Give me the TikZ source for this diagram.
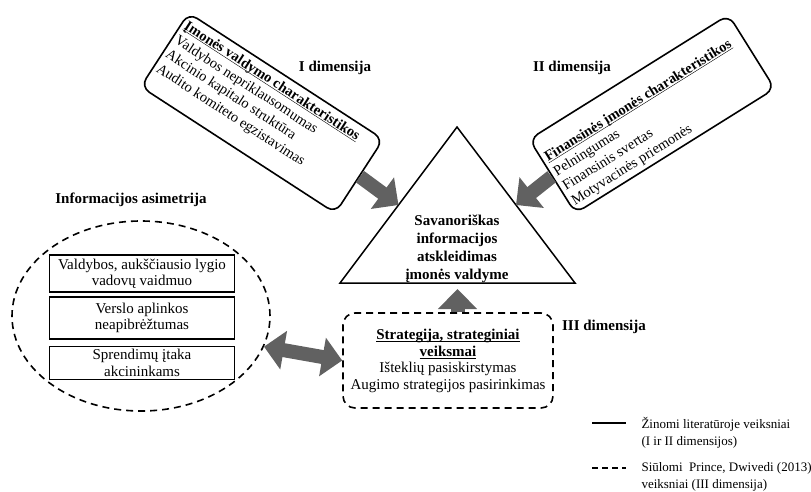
\documentclass[tikz,border=0pt]{standalone}
\usepackage{fontspec}
\setmainfont{Liberation Serif}
\usetikzlibrary{shapes.geometric,arrows.meta,calc}
\newcommand\ulbf[1]{\underline{\smash{\textbf{#1}}}\strut}

\begin{document}
\begin{tikzpicture}[x=1pt,y=-1pt,
    every node/.style={font=\fontsize{15}{16.5}\selectfont},
    dimbox/.style={draw,line width=1.6pt,rounded corners=10pt,fill=white,inner sep=4pt,
      font=\fontsize{14.5}{17}\selectfont},
    dashbox/.style={draw,line width=1.6pt,dash pattern=on 7pt off 5pt},
    factbox/.style={draw,line width=1.6pt,minimum width=185pt,align=center,inner sep=1pt},
    bigarrow/.style={line width=14pt,draw=black!62,-{Triangle[length=20pt,width=38pt]}},
    dimlabel/.style={font=\fontsize{15}{17}\selectfont\bfseries},
    legendtext/.style={anchor=west,align=left,font=\fontsize{13}{17}\selectfont}]
  \useasboundingbox (0,0) rectangle (811,491);

  \coordinate (tl) at (340,283);
  \coordinate (tr) at (575,283);
  \coordinate (tt) at (457,127);
  \coordinate (tlm) at ($(tl)!0.5!(tt)$);
  \coordinate (trm) at ($(tr)!0.5!(tt)$);
  \coordinate (tbm) at ($(tl)!0.5!(tr)$);
  \draw[line width=1.5pt] (tl) -- (tr) -- (tt) -- cycle;
  \node[font=\fontsize{15}{18}\selectfont\bfseries,align=center] (disc) at (457,249)
    {Savanoriškas\\informacijos\\atskleidimas\\įmonės valdyme};

  \node[dimbox,rotate=-33] (gov) at (262,113)
    {\parbox[c][80pt][t]{224pt}{\raggedright
      \ulbf{Įmonės valdymo charakteristikos}\\
      Valdybos nepriklausomumas\\
      Akcinio kapitalo struktūra\\
      Audito komiteto egzistavimas}};
  \node[dimbox,rotate=32] (fin) at (652,114)
    {\parbox[c][76pt][b]{227pt}{\raggedright
      \ulbf{Finansinės įmonės charakteristikos}\\
      Pelningumas\\
      Finansinis svertas\\
      Motyvacinės priemonės}};

  \node[dashbox,ellipse,minimum width=258pt,minimum height=190pt] (asym) at (141,316) {};
  \node[factbox,minimum height=37pt] (role) at (142,273.5) {Valdybos, aukščiausio lygio\\vadovų vaidmuo};
  \node[factbox,minimum height=42pt] (env) at (142,318) {Verslo aplinkos\\neapibrėžtumas};
  \node[factbox,minimum height=33pt] (dec) at (142,363) {Sprendimų įtaka\\akcininkams};

  \node[dashbox,rounded corners=12pt,minimum width=210pt,minimum height=95pt,align=center] (strat) at (448,360.5)
    {\ulbf{Strategija, strateginiai}\\\ulbf{veiksmai}\\
     Išteklių pasiskirstymas\\Augimo strategijos pasirinkimas};

  \node[dimlabel] (d1) at (335,68) {I dimensija};
  \node[dimlabel] (d2) at (572,68) {II dimensija};
  \node[dimlabel] (d3) at (604,327) {III dimensija};
  \node[dimlabel] (d4) at (131,200) {Informacijos asimetrija};

  \begin{scope}[bigarrow]
    \draw (gov.east) -- (tlm);
    \draw (fin.west) -- (trm);
    \draw[shorten >=6pt] (strat.north -| tbm) -- (tbm);
    \draw[{Triangle[length=20pt,width=38pt]}-{Triangle[length=20pt,width=38pt]}] (asym.-14) -- (strat.west);
  \end{scope}

  \coordinate (ls1) at (592,423);
  \coordinate (ls2) at (626,423);
  \coordinate (ld1) at (592,468);
  \coordinate (ld2) at (626,468);
  \draw[line width=1.5pt] (ls1) -- (ls2);
  \draw[line width=1.5pt,dash pattern=on 6pt off 4pt] (ld1) -- (ld2);
  \node[legendtext] (known) at (638,432.5) {Žinomi literatūroje veiksniai\\(I ir II dimensijos)};
  \node[legendtext] (proposed) at (638,477) {Siūlomi\ \ Prince, Dwivedi (2013)\\veiksniai (III dimensija)};
\end{tikzpicture}
\end{document}
